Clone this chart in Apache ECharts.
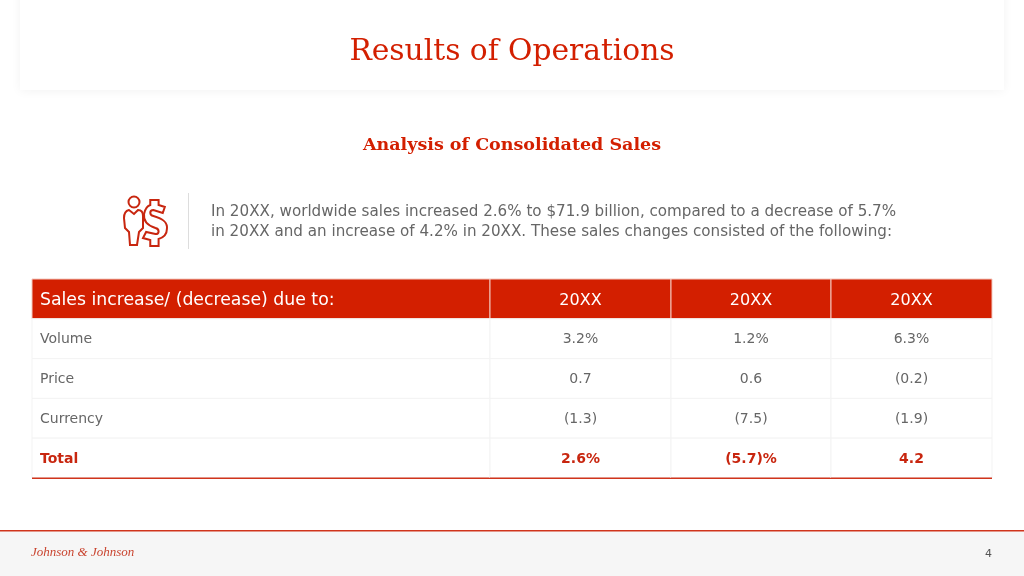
<!DOCTYPE html>
<html><head><meta charset="utf-8">
<style>html,body{margin:0;padding:0;background:#fff}#c{width:1024px;height:576px}</style>
<script src="https://cdn.jsdelivr.net/npm/echarts@6/dist/echarts.min.js"></script>
</head><body><div id="c"></div>
<script>
const titleText = 'Results of Operations';
const subtitleText = 'Analysis of Consolidated Sales';
const introLines = ['In 20XX, worldwide sales increased 2.6% to $71.9 billion, compared to a decrease of 5.7%','in 20XX and an increase of 4.2% in 20XX. These sales changes consisted of the following:'];
const columns = ['Sales increase/ (decrease) due to:', '20XX', '20XX', '20XX'];
const rowLabels = ['Volume', 'Price', 'Currency', 'Total'];
const col1 = ['3.2%', '0.7', '(1.3)', '2.6%'];
const col2 = ['1.2%', '0.6', '(7.5)', '(5.7)%'];
const col3 = ['6.3%', '(0.2)', '(1.9)', '4.2'];
const pageNumber = '4';
const RED = '#d31f00', DARK = '#c8260f', GREY = '#666666', SANS = '"DejaVu Sans"', SERIF = '"DejaVu Serif"';
const edges = [0, 458, 639, 799, 960];
const rowNames = ['head'].concat(rowLabels);
const cells = [];
columns.forEach((t, c) => cells.push([c, 0, t]));
rowLabels.forEach((t, r) => {
  [t, col1[r], col2[r], col3[r]].forEach((v, c) => cells.push([c, r + 1, v]));
});
const iconPerson = 'M129 210 C125 211 124 214 124 218 L125 228 L129 232 L130 245 L137 245 L139 232 L143 228 L143 216 C143 212 141 210 138 210 L134 214 Z';
const iconDollar = 'M150 200 L158 200 L158 205 L164 207 L162 213 L153 210 C149 210 149 215 153 216 C160 218 167 221 166 229 C166 235 161 238 158 239 L158 246 L150 246 L150 240 L143 238 L146 232 L155 234 C159 234 159 229 155 228 C149 226 143 222 144 214 C145 209 147 206 150 205 Z';
const chart = echarts.init(document.getElementById('c'), null, {renderer: 'canvas'});
chart.setOption({
  animation: false,
  backgroundColor: '#ffffff',
  grid: {left: 32, top: 279, width: 960, height: 199, containLabel: false},
  xAxis: {type: 'value', min: 0, max: 960, show: false},
  yAxis: {type: 'category', inverse: true, data: rowNames, show: false},
  title: [
    {text: titleText, left: 'center', top: 32, textStyle: {fontFamily: SERIF, fontSize: 29.7, fontWeight: 'normal', color: RED}},
    {text: subtitleText, left: 'center', top: 131, textStyle: {fontFamily: SERIF, fontSize: 17.5, fontWeight: 'bold', color: RED}}
  ],
  graphic: [
    {type: 'rect', silent: true, z: -2, shape: {x: 20, y: -30, width: 984, height: 120}, style: {fill: '#fff', shadowBlur: 10, shadowOffsetY: 1, shadowColor: 'rgba(0,0,0,0.05)'}},
    {type: 'rect', silent: true, z: -1, shape: {x: 0, y: 531, width: 1024, height: 45}, style: {fill: '#f6f6f6'}},
    {type: 'rect', silent: true, shape: {x: 0, y: 530, width: 1024, height: 1.5}, style: {fill: '#d0341c'}},
    {type: 'rect', silent: true, shape: {x: 188, y: 193, width: 1, height: 56}, style: {fill: '#dddddd'}},
    {type: 'text', silent: true, style: {x: 211, y: 212.5, text: introLines[0], font: '15.15px ' + SANS, fill: GREY, verticalAlign: 'middle'}},
    {type: 'text', silent: true, style: {x: 211, y: 232, text: introLines[1], font: '15.15px ' + SANS, fill: GREY, verticalAlign: 'middle'}},
    {type: 'text', silent: true, style: {x: 31, y: 553, text: 'Johnson & Johnson', font: 'italic 13px "Liberation Serif"', fill: '#c9442f', verticalAlign: 'middle'}},
    {type: 'text', silent: true, style: {x: 985, y: 554, text: pageNumber, font: '11px ' + SANS, fill: '#555', verticalAlign: 'middle'}},
    {type: 'circle', silent: true, shape: {cx: 134, cy: 202, r: 5.5}, style: {fill: 'none', stroke: DARK, lineWidth: 2}}
  ],
  series: [{
    type: 'custom',
    coordinateSystem: 'none',
    data: [0],
    silent: true,
    renderItem: function () {
      return {type: 'group', children: [iconPerson, iconDollar].map((d, i) => ({
        type: 'path',
        shape: i === 0
          ? {pathData: d, x: 124, y: 210, width: 19, height: 35, layout: 'cover'}
          : {pathData: d, x: 143, y: 200, width: 24, height: 46, layout: 'cover'},
        style: {fill: 'none', stroke: DARK, lineWidth: 2}
      }))};
    }
  }, {
    type: 'custom',
    coordinateSystem: 'cartesian2d',
    encode: {x: 0, y: 1},
    data: cells,
    clip: false,
    renderItem: function (params, api) {
      const c = api.value(0), r = api.value(1);
      const text = cells[params.dataIndex][2];
      const band = api.size([0, 1])[1];
      const x0 = api.coord([edges[c], r])[0], x1 = api.coord([edges[c + 1], r])[0];
      const cy = api.coord([0, r])[1];
      const isHead = r === 0, isTotal = r === rowNames.length - 1;
      const size = isHead ? (c === 0 ? '17.3px ' : '16px ') : '14px ';
      const children = [{
        type: 'rect',
        shape: {x: x0, y: cy - band / 2, width: x1 - x0, height: band},
        style: {fill: isHead ? RED : '#ffffff', stroke: isHead ? '#f3c9bf' : '#f3f3f3', lineWidth: 1}
      }];
      children.push({
        type: 'text',
        style: {
          x: c === 0 ? x0 + 8 : (x0 + x1) / 2,
          y: cy + (isHead ? 2 : 1),
          text: text,
          align: c === 0 ? 'left' : 'center',
          verticalAlign: 'middle',
          font: (isTotal ? 'bold ' : '') + size + SANS,
          fill: isHead ? '#ffffff' : isTotal ? DARK : GREY
        }
      });
      if (isTotal) {
        children.push({type: 'rect', shape: {x: x0, y: cy + band / 2 - 0.5, width: x1 - x0, height: 1.5}, style: {fill: '#d0341c'}});
      }
      return {type: 'group', children: children};
    }
  }]
});
</script></body></html>
